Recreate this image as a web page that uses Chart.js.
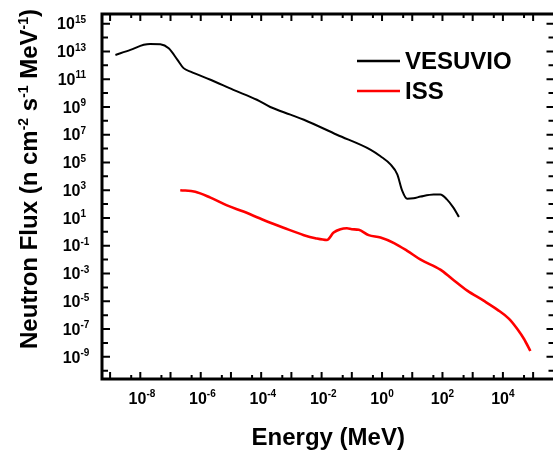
<!DOCTYPE html>
<html>
<head>
<meta charset="utf-8">
<script src="https://cdn.jsdelivr.net/npm/chart.js@4.4.0/dist/chart.umd.min.js"></script>
<style>
  html, body { margin: 0; padding: 0; overflow: hidden; background: #fff; }
  canvas { display: block; }
</style>
</head>
<body>
<canvas id="fluxChart" width="560" height="454" style="width:560px;height:454px"></canvas>
<script>
// values (energy in MeV, flux in n cm^-2 s^-1 MeV^-1)
const vesuvioEnergy = [1.5e-9, 4.7e-9, 1.3e-8, 2.1e-8, 4.6e-8, 8.7e-8, 1.7e-7, 2.7e-7, 4.6e-7, 2.1e-6,
  1.2e-5, 7.2e-5, 2.0e-4, 9.3e-4, 2.6e-3, 3.2e-2, 0.41, 0.89, 1.9, 3.2,
  4.6, 6.8, 11, 19, 51, 85, 140, 230, 350];
const vesuvioFlux = [5.6e12, 1.3e13, 3.0e13, 3.5e13, 3.3e13, 1.7e13, 2.5e12, 6.3e11, 3.5e11, 9.1e10,
  1.7e10, 3.3e9, 1.0e9, 2.8e8, 1.2e8, 1.0e7, 8.5e5, 2.8e5, 7.2e4, 1.4e4,
  980, 240, 260, 350, 500, 500, 220, 56, 12];

const issEnergy = [2.1e-7, 6.6e-7, 2.1e-6, 7.4e-6, 2.6e-5, 1.2e-4, 5.5e-4, 2.6e-3, 6.2e-3, 1.5e-2,
  2.5e-2, 4.2e-2, 6.9e-2, 0.10, 0.17, 0.36, 0.89, 2.5, 6.8, 19,
  85, 210, 660, 2300, 6500, 1.6e4, 3.0e4, 5.0e4, 8.1e4];
const issFlux = [1.0e3, 790, 295, 81, 29, 7.2, 2.0, 0.58, 0.35, 0.26,
  0.89, 1.55, 1.8, 1.55, 1.4, 0.58, 0.39, 0.155, 0.043, 9.8e-3,
  1.9e-3, 4.0e-4, 5.8e-5, 1.1e-5, 2.5e-6, 5.4e-7, 1.0e-7, 1.9e-8, 2.6e-9];

// axis ranges and tick label exponents
const xRange = [5.4e-10, 5.1e5];
const yRange = [2.5e-11, 5e15];
const xTickExps = [-9, -8, -7, -6, -5, -4, -3, -2, -1, 0, 1, 2, 3, 4, 5];
const xLabelExps = [-8, -6, -4, -2, 0, 2, 4];
const yTickExps = [-10, -9, -8, -7, -6, -5, -4, -3, -2, -1, 0, 1, 2, 3, 4, 5, 6, 7, 8, 9, 10, 11, 12, 13, 14, 15];
const yLabelExps = [15, 13, 11, 9, 7, 5, 3, 1, -1, -3, -5, -7, -9];

const FONT = '"Liberation Sans", Arial, sans-serif';

function toPoints(xs, ys) {
  return xs.map((x, i) => ({ x: x, y: ys[i] }));
}

// "10" with a raised exponent, start = left edge of the "10"
function drawPower(ctx, exp, start, baseline) {
  ctx.textAlign = "left";
  ctx.textBaseline = "alphabetic";
  ctx.font = "bold 16px " + FONT;
  ctx.fillText("10", start, baseline);
  const wBase = ctx.measureText("10").width;
  ctx.font = "bold 10px " + FONT;
  ctx.fillText((exp < 0 ? "-" : "") + Math.abs(exp), start + wBase, baseline - 6.5);
}

function powerWidth(ctx, exp) {
  ctx.font = "bold 16px " + FONT;
  const wBase = ctx.measureText("10").width;
  ctx.font = "bold 10px " + FONT;
  return wBase + ctx.measureText(String(Math.abs(exp))).width;
}

// frame, inward ticks, labels, titles and legend
const frameAndLabels = {
  id: "frameAndLabels",
  afterDraw(chart) {
    const ctx = chart.ctx;
    const area = chart.chartArea;
    const xs = chart.scales.x;
    const ys = chart.scales.y;
    ctx.save();
    ctx.strokeStyle = "#000";
    ctx.fillStyle = "#000";

    ctx.lineWidth = 3;
    ctx.strokeRect(area.left, area.top, area.right - area.left, area.bottom - area.top);

    ctx.lineWidth = 2;
    ctx.beginPath();
    yTickExps.forEach(e => {
      const py = ys.getPixelForValue(Math.pow(10, e));
      const len = (e % 2 !== 0) ? 8 : 6;
      ctx.moveTo(area.left, py); ctx.lineTo(area.left + len, py);
      ctx.moveTo(area.right, py); ctx.lineTo(area.right - len, py);
    });
    xTickExps.forEach(e => {
      const px = xs.getPixelForValue(Math.pow(10, e));
      ctx.moveTo(px, area.bottom); ctx.lineTo(px, area.bottom - 7);
      ctx.moveTo(px, area.top); ctx.lineTo(px, area.top + 7);
      const half = 5 * Math.pow(10, e - 1);
      if (half > xRange[0] * 1.1) {
        const ph = xs.getPixelForValue(half);
        ctx.moveTo(ph, area.bottom); ctx.lineTo(ph, area.bottom - 4);
        ctx.moveTo(ph, area.top); ctx.lineTo(ph, area.top + 4);
      }
    });
    ctx.stroke();

    // tick labels
    yLabelExps.forEach(e => {
      const py = ys.getPixelForValue(Math.pow(10, e));
      drawPower(ctx, e, 86 - powerWidth(ctx, e), py + 5.75);
    });
    xLabelExps.forEach(e => {
      const px = xs.getPixelForValue(Math.pow(10, e));
      drawPower(ctx, e, px - powerWidth(ctx, e) / 2, area.bottom + 24.5);
    });

    // x title
    ctx.font = "bold 24px " + FONT;
    ctx.textAlign = "center";
    ctx.fillText("Energy (MeV)", (area.left + area.right) / 2, 445);

    // y title, rotated, with superscripts
    const parts = [["Neutron Flux (n cm", 0], ["-2", 1], [" s", 0], ["-1", 1], [" MeV", 0], ["-1", 1], [")", 0]];
    ctx.translate(36.5, 349);
    ctx.rotate(-Math.PI / 2);
    ctx.textAlign = "left";
    let pos = 0;
    parts.forEach(([txt, sup]) => {
      ctx.font = sup ? "bold 14px " + FONT : "bold 24px " + FONT;
      ctx.fillText(txt, pos, sup ? -9 : 0);
      pos += ctx.measureText(txt).width;
    });
    ctx.setTransform(1, 0, 0, 1, 0, 0);

    // legend
    const rows = [61, 91];
    chart.data.datasets.forEach((ds, i) => {
      ctx.strokeStyle = ds.borderColor;
      ctx.lineWidth = 2.5;
      ctx.beginPath();
      ctx.moveTo(357, rows[i]);
      ctx.lineTo(400, rows[i]);
      ctx.stroke();
      ctx.fillStyle = "#000";
      ctx.font = "bold 24px " + FONT;
      ctx.textAlign = "left";
      ctx.fillText(ds.label, 405, rows[i] + 7.5);
    });
    ctx.restore();
  }
};

const chart = new Chart(document.getElementById("fluxChart"), {
  type: "line",
  data: {
    datasets: [{
      label: "VESUVIO",
      data: toPoints(vesuvioEnergy, vesuvioFlux),
      borderColor: "#000000",
      borderWidth: 2,
      pointRadius: 0,
      cubicInterpolationMode: "monotone"
    }, {
      label: "ISS",
      data: toPoints(issEnergy, issFlux),
      borderColor: "#ff0000",
      borderWidth: 2.6,
      pointRadius: 0,
      cubicInterpolationMode: "monotone"
    }]
  },
  options: {
    responsive: false,
    animation: false,
    layout: { padding: { left: 102, right: 5.5, top: 14, bottom: 75 } },
    scales: {
      x: { type: "logarithmic", min: xRange[0], max: xRange[1], display: false },
      y: { type: "logarithmic", min: yRange[0], max: yRange[1], display: false }
    },
    plugins: {
      legend: { display: false },
      tooltip: { enabled: false }
    }
  },
  plugins: [frameAndLabels]
});
</script>
</body>
</html>
